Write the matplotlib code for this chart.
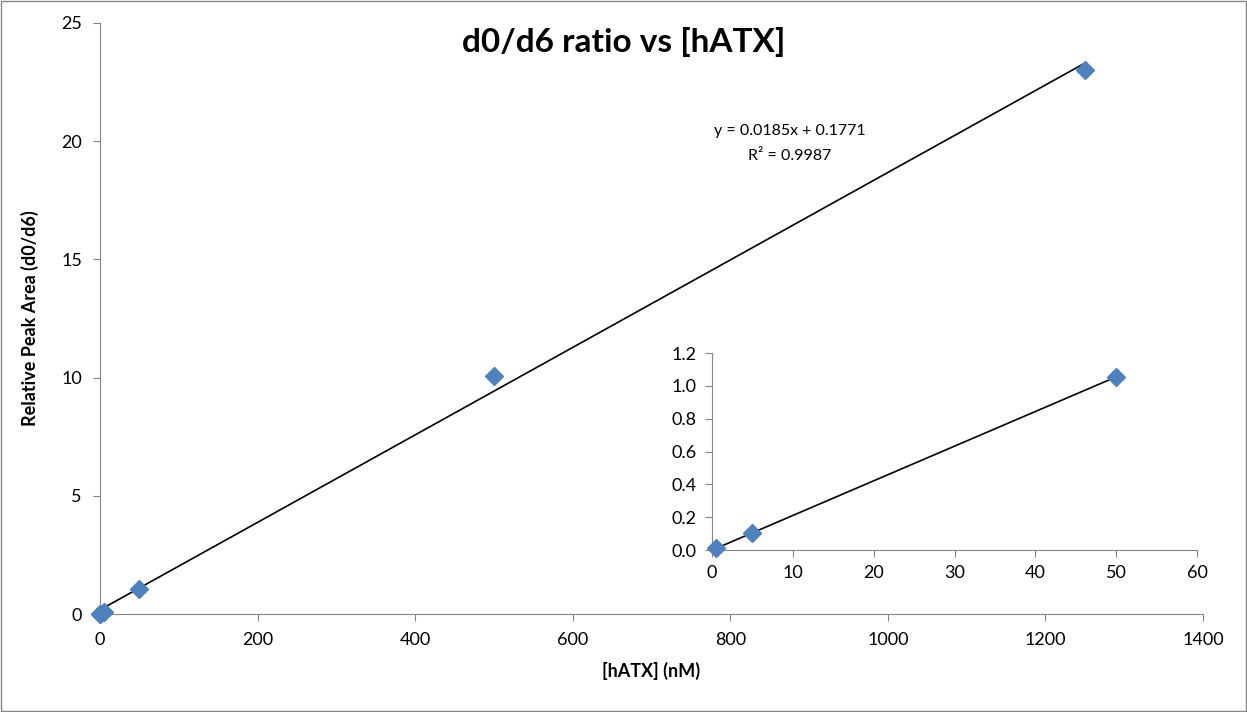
import numpy as np
import matplotlib.pyplot as plt
from matplotlib.patches import Rectangle

plt.rcParams["font.family"] = ["Lato", "DejaVu Sans"]

# data
conc = [0, 0.5, 5, 50, 500, 1250]
ratio = [0.0, 0.01, 0.105, 1.055, 10.08, 23.0]

inset_conc = [0.5, 5, 50]
inset_ratio = [0.01, 0.105, 1.055]

slope, intercept = 0.0185, 0.1771
r_squared = 0.9987

blue = "#4F81BD"
grey = "#868686"

fig = plt.figure(figsize=(12.47, 7.12), dpi=100)
fig.patches.append(Rectangle((0.001, 0.001), 0.998, 0.997, transform=fig.transFigure,
                             fill=False, edgecolor=grey, linewidth=1))

# main axes
ax = fig.add_axes([0.0802, 0.1376, 0.8845, 0.8301])
xfit = np.array([0, max(conc)])
ax.plot(xfit, slope * xfit + intercept, color="black", linewidth=1.2, zorder=2)
ax.plot(conc, ratio, linestyle="none", marker="D", markersize=9,
        color=blue, markeredgecolor=blue, zorder=3, clip_on=False)
ax.set_xlim(0, 1400)
ax.set_ylim(0, 25)
ax.set_xticks(np.arange(0, 1401, 200))
ax.set_yticks(np.arange(0, 26, 5))
for side in ["top", "right"]:
    ax.spines[side].set_visible(False)
for side in ["left", "bottom"]:
    ax.spines[side].set_color(grey)
ax.tick_params(direction="out", length=5, color=grey, labelsize=13, pad=8)
ax.set_xlabel("[hATX] (nM)", fontsize=13, fontweight="bold", labelpad=10)
ax.set_ylabel("Relative Peak Area (d0/d6)", fontsize=13, fontweight="bold", labelpad=16)

fig.text(0.6335, 0.799, f"y = {slope}x + {intercept}\nR² = {r_squared}",
         ha="center", va="center", fontsize=11.5, linespacing=2.0)
fig.text(0.5, 0.941, "d0/d6 ratio vs [hATX]", ha="center", va="center",
         fontsize=24, fontweight="bold")

# inset axes
ins = fig.add_axes([0.571, 0.2275, 0.389, 0.2767])
cf = np.polyfit(inset_conc, inset_ratio, 1)
xi = np.array([min(inset_conc), max(inset_conc)])
ins.plot(xi, np.polyval(cf, xi), color="black", linewidth=1.2, zorder=2)
ins.plot(inset_conc, inset_ratio, linestyle="none", marker="D", markersize=9,
         color=blue, markeredgecolor=blue, zorder=3, clip_on=False)
ins.set_xlim(0, 60)
ins.set_ylim(0, 1.2)
ins.set_xticks(np.arange(0, 61, 10))
ins.set_yticks(np.arange(0, 1.21, 0.2))
ins.yaxis.set_major_formatter(plt.FormatStrFormatter("%.1f"))
for side in ["top", "right"]:
    ins.spines[side].set_visible(False)
for side in ["left", "bottom"]:
    ins.spines[side].set_color(grey)
ins.tick_params(direction="out", length=5, color=grey, labelsize=13, pad=6)
ins.patch.set_alpha(0)

fig.savefig("out.png", dpi=100)
